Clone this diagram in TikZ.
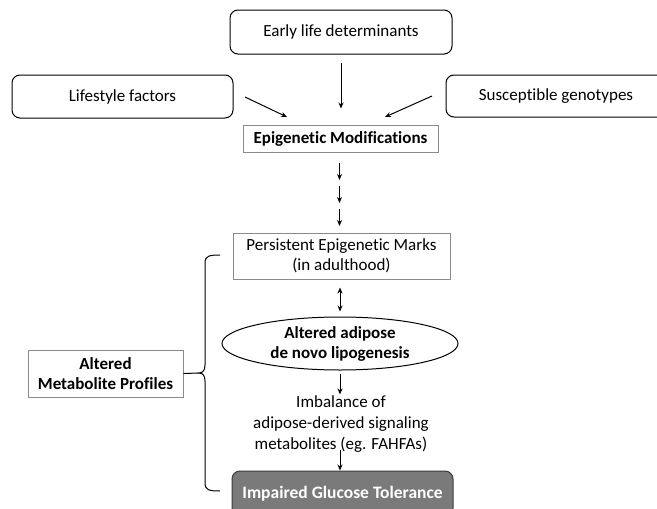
\documentclass[tikz,border=0pt]{standalone}
\usepackage{fontspec}
\setmainfont{Carlito}[Ligatures=NoCommon]
\usetikzlibrary{arrows.meta,shapes.geometric}
\definecolor{boxgray}{HTML}{8A8A8A}
\definecolor{impfill}{HTML}{7A7A7A}
\definecolor{impdraw}{HTML}{3A3A3A}
\tikzset{
  rbox/.style={draw=black,line width=1pt,rounded corners=8pt,inner sep=0pt,align=center,
    font=\fontsize{17}{20.5}\selectfont},
  gbox/.style={draw=boxgray,line width=1pt,inner sep=0pt,align=center,
    font=\fontsize{17}{20.5}\selectfont},
  arr/.style={line width=1pt,-{Stealth[length=6pt,width=5pt]}},
  darr/.style={line width=1pt,{Stealth[length=6pt,width=5pt]}-{Stealth[length=6pt,width=5pt]}},
  txt/.style={inner sep=0pt,align=center,font=\fontsize{17}{21}\selectfont}
}
\begin{document}
\begin{tikzpicture}[x=1pt,y=-1pt]
\useasboundingbox (0,0) rectangle (657,509);
\clip (0,0) rectangle (657,509);
\fill[white] (0,0) rectangle (657,509);
% top boxes
\node[rbox,minimum width=222pt,minimum height=44pt] (early) at (341,32) {Early life determinants};
\node[rbox,minimum width=221pt,minimum height=43pt] (life) at (122.5,96.5) {Lifestyle factors};
\node[rbox,minimum width=220pt,minimum height=42pt] (gen) at (556,96) {Susceptible genotypes};
\node[gbox,minimum width=195pt,minimum height=27pt,font=\fontsize{17}{20.5}\selectfont\bfseries] (epi) at (340.5,138.5) {Epigenetic Modifications};
% arrows into epi
\coordinate (ls) at (245,97);
\coordinate (le) at (287,117);
\coordinate (rs) at (432,96);
\coordinate (re) at (385,117);
\draw[arr] (ls) -- (le);
\draw[arr] (rs) -- (re);
\draw[arr,shorten <=8pt,shorten >=16pt] (early.south) -- (early.south |- epi.north);
% three small arrows
\coordinate (a1s) at (339.5,163);
\coordinate (a1e) at (339.5,180);
\coordinate (a2s) at (339.5,186);
\coordinate (a2e) at (339.5,203);
\coordinate (a3s) at (339.5,209);
\coordinate (a3e) at (339.5,226);
\draw[arr] (a1s) -- (a1e);
\draw[arr] (a2s) -- (a2e);
\draw[arr] (a3s) -- (a3e);
% persistent
\node[gbox,minimum width=217pt,minimum height=46pt] (pers) at (341.5,256) {Persistent Epigenetic Marks\\(in adulthood)};
\node[ellipse,draw=black,line width=1pt,inner sep=0pt,minimum width=236pt,minimum height=53pt,align=center,
  font=\fontsize{17}{20}\selectfont\bfseries] (dnl) at (340,343.5) {Altered adipose\\de novo lipogenesis};
\draw[darr,shorten <=8pt,shorten >=5pt] (pers.south -| dnl.north) -- (dnl.north);
% imbalance text
\node[txt] (imb) at (341,424) {Imbalance of\\adipose-derived signaling\\metabolites (eg. FAHFAs)};
\draw[arr,shorten <=3pt,shorten >=1pt] (dnl.south) -- (dnl.south |- imb.north);
% impaired
\node[draw=impdraw,fill=impfill,line width=1pt,rounded corners=8pt,inner sep=0pt,minimum width=221pt,minimum height=45pt,
  text=white,font=\fontsize{17.5}{21}\selectfont\bfseries] (imp) at (342.5,493.5) {Impaired Glucose Tolerance};
\coordinate (b1s) at (340,450);
\draw[arr] (b1s) -- (b1s |- imp.north);
% altered profiles
\node[gbox,minimum width=155pt,minimum height=47pt,font=\fontsize{17}{20}\selectfont\bfseries] (alt) at (105.5,373.5) {Altered\\Metabolite Profiles};
% brace
\coordinate (btop) at (220,255);
\coordinate (bbot) at (220,491);
\coordinate (btip) at (199,373);
\draw[line width=1pt] (btop) .. controls (209,255) and (205,256) .. (205,263) -- (205,365)
  .. controls (205,370) and (203,373) .. (btip)
  .. controls (203,373) and (205,376) .. (205,381) -- (205,483)
  .. controls (205,490) and (209,491) .. (bbot);
\draw[line width=1pt] (alt.east) -- (btip);
\end{tikzpicture}
\end{document}
